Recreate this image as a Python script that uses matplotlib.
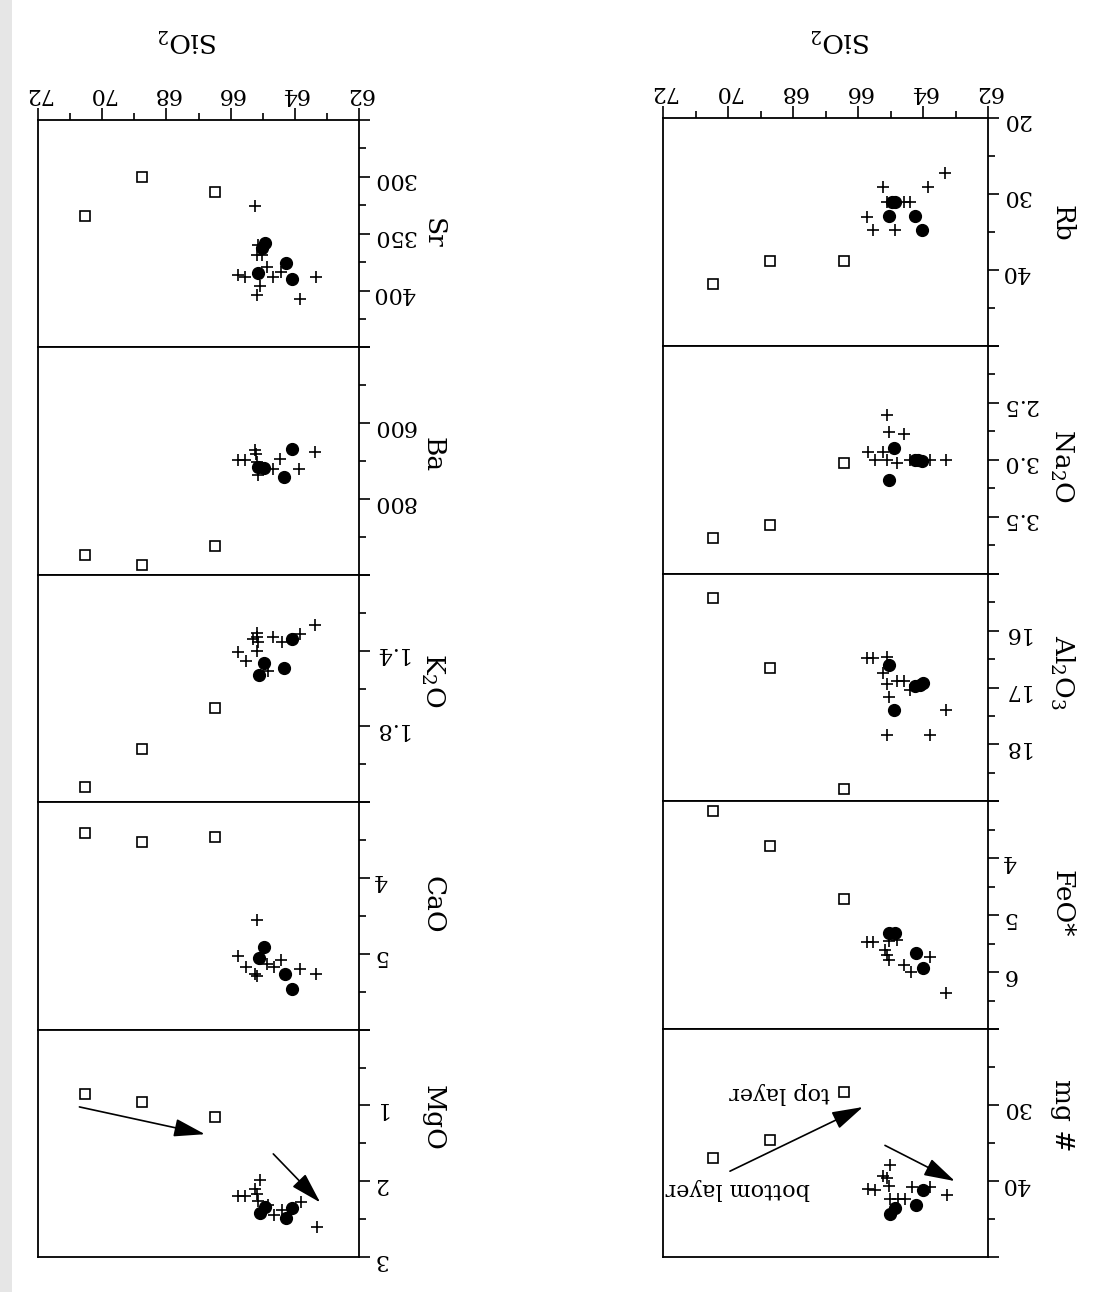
import matplotlib.pyplot as plt
import numpy as np
from matplotlib.patches import Rectangle

plt.rcParams['font.family'] = ['DejaVu Serif']
plt.rcParams['mathtext.fontset'] = 'dejavuserif'

# SiO2 of the three layered samples (open squares)
sq_sio2_r = [70.45, 68.7, 66.42]
sq_sio2_l = [70.55, 68.77, 66.5]

# ---- right column ----
rb_sq = [41.8, 38.8, 38.8]
rb_dot_x = [64.96, 64.86, 65.06, 64.25, 64.04]
rb_dot = [31.1, 31.1, 32.9, 32.9, 34.8]
rb_plus_x = [63.32, 65.22, 63.84, 65.12, 64.6, 64.4, 65.73, 65.53, 64.86]
rb_plus = [27.2, 29.05, 29.05, 31.1, 31.1, 31.1, 33.0, 34.8, 34.8]

na_sq = [3.69, 3.57, 3.03]
na_dot_x = [64.9, 64.25, 64.14, 64.04, 65.04]
na_dot = [2.9, 3.0, 3.0, 3.01, 3.18]
na_plus_x = [65.12, 65.04, 64.6, 65.68, 65.22, 65.48, 65.12, 64.79, 64.4, 63.78, 63.29]
na_plus = [2.61, 2.76, 2.77, 2.93, 2.93, 3.0, 3.0, 3.03, 3.0, 3.0, 3.0]

al_sq = [15.42, 16.65, 18.79]
al_dot_x = [65.04, 64.25, 64.09, 63.99, 64.9]
al_dot = [16.6, 16.98, 16.95, 16.92, 17.39]
al_plus_x = [65.73, 65.53, 65.12, 65.22, 65.12, 64.81, 64.6, 64.4, 65.04, 63.29, 65.12, 63.8]
al_plus = [16.48, 16.48, 16.46, 16.75, 16.94, 16.89, 16.89, 17.05, 17.16, 17.39, 17.84, 17.84]

fe_sq = [3.17, 3.79, 4.72]
fe_dot_x = [65.04, 64.86, 64.22, 63.99]
fe_dot = [5.31, 5.31, 5.66, 5.92]
fe_plus_x = [65.73, 65.53, 65.04, 64.81, 65.17, 65.12, 65.04, 64.6, 64.38, 63.78, 63.29]
fe_plus = [5.47, 5.47, 5.45, 5.43, 5.61, 5.7, 5.78, 5.88, 6.0, 5.74, 6.36]

mg_sq = [37.0, 34.6, 28.3]
mg_dot_x = [64.01, 64.22, 64.86, 65.02]
mg_dot = [41.2, 43.2, 43.5, 44.4]
mg_plus_x = [65.02, 65.22, 65.12, 65.06, 65.68, 65.48, 64.35, 63.78, 63.27, 65.02, 64.76, 64.55]
mg_plus = [37.85, 39.3, 39.65, 40.66, 41.0, 41.2, 40.8, 40.8, 41.85, 42.3, 42.3, 42.3]

# ---- left column ----
sr_sq = [334.5, 299.7, 313.3]
sr_dot_x = [64.93, 65.03, 64.28, 65.14, 64.08]
sr_dot = [358, 363, 376, 385, 390]
sr_plus_x = [65.24, 65.16, 65.19, 65.03, 64.88, 65.78, 65.55, 64.67, 64.43, 63.34, 65.08, 65.19, 63.84]
sr_plus = [326, 360, 369, 369, 379, 386, 388, 388, 384, 388, 396, 404, 407]

ba_sq = [949, 973, 923]
ba_dot_x = [64.1, 65.14, 64.95, 64.33]
ba_dot = [668, 715, 718, 741]
ba_plus_x = [65.24, 65.22, 65.78, 65.55, 65.19, 64.46, 64.67, 63.87, 63.37, 65.14]
ba_plus = [670, 681, 698, 696, 703, 694, 720, 720, 675, 737]

k_sq = [2.12, 1.92, 1.705]
k_dot_x = [64.08, 64.95, 64.33, 65.11]
k_dot = [1.34, 1.466, 1.49, 1.528]
k_plus_x = [63.37, 63.84, 64.67, 64.41, 65.19, 65.19, 65.29, 65.14, 65.19, 65.78, 65.53, 64.83]
k_plus = [1.267, 1.314, 1.326, 1.356, 1.305, 1.33, 1.34, 1.356, 1.4, 1.41, 1.457, 1.508]

ca_sq = [3.41, 3.53, 3.46]
ca_dot_x = [64.95, 65.11, 64.31, 64.08]
ca_dot = [4.906, 5.055, 5.27, 5.47]
ca_plus_x = [65.19, 65.78, 65.53, 65.19, 64.88, 64.64, 64.43, 63.84, 63.35, 65.24]
ca_plus = [4.555, 5.026, 5.18, 5.29, 5.14, 5.18, 5.08, 5.2, 5.27, 5.27]

mgo_sq = [0.856, 0.95, 1.15]
mgo_dot_x = [64.93, 65.08, 64.08, 64.28]
mgo_dot = [2.34, 2.42, 2.36, 2.49]
mgo_plus_x = [65.08, 65.24, 65.19, 65.78, 65.55, 65.16, 64.83, 64.41, 64.64, 63.81, 63.32]
mgo_plus = [1.99, 2.1, 2.17, 2.19, 2.19, 2.26, 2.32, 2.38, 2.45, 2.28, 2.6]

sio2_ticks = [62, 64, 66, 68, 70, 72]

# label, lo, hi, major ticks, major labels, minor ticks, data, label y (px)
right_panels = [
    ('Rb', 20, 50, [20, 30, 40, 50], ['20', '30', '40', ''], [25, 35, 45],
     rb_sq, rb_dot_x, rb_dot, rb_plus_x, rb_plus, 223),
    ('Na$_2$O', 2.0, 4.0, [2.0, 2.5, 3.0, 3.5, 4.0], ['', '2.5', '3.0', '3.5', ''],
     [2.25, 2.75, 3.25, 3.75], na_sq, na_dot_x, na_dot, na_plus_x, na_plus, 466),
    ('Al$_2$O$_3$', 15, 19, [15, 16, 17, 18, 19], ['', '16', '17', '18', ''],
     [15.5, 16.5, 17.5, 18.5], al_sq, al_dot_x, al_dot, al_plus_x, al_plus, 672),
    ('FeO*', 3, 7, [3, 4, 5, 6, 7], ['', '4', '5', '6', ''], [3.5, 4.5, 5.5, 6.5],
     fe_sq, fe_dot_x, fe_dot, fe_plus_x, fe_plus, 904),
    ('mg #', 20, 50, [20, 30, 40, 50], ['', '30', '40', ''], [25, 35, 45],
     mg_sq, mg_dot_x, mg_dot, mg_plus_x, mg_plus, 1115),
]
left_panels = [
    ('Sr', 250, 450, [250, 300, 350, 400, 450], ['', '300', '350', '400', ''],
     [275, 325, 375, 425], sr_sq, sr_dot_x, sr_dot, sr_plus_x, sr_plus, 233),
    ('Ba', 400, 1000, [400, 600, 800, 1000], ['', '600', '800', ''], [500, 700, 900],
     ba_sq, ba_dot_x, ba_dot, ba_plus_x, ba_plus, 455),
    ('K$_2$O', 1.0, 2.2, [1.0, 1.4, 1.8, 2.2], ['', '1.4', '1.8', ''], [1.2, 1.6, 2.0],
     k_sq, k_dot_x, k_dot, k_plus_x, k_plus, 680),
    ('CaO', 3, 6, [3, 4, 5, 6], ['', '4', '5', ''], [3.5, 4.5, 5.5],
     ca_sq, ca_dot_x, ca_dot, ca_plus_x, ca_plus, 905),
    ('MgO', 0, 3, [0, 1, 2, 3], ['', '1', '2', '3'], [0.5, 1.5, 2.5],
     mgo_sq, mgo_dot_x, mgo_dot, mgo_plus_x, mgo_plus, 1118),
]

W, H = 1096, 1292
fig = plt.figure(figsize=(W / 100, H / 100), dpi=100)
fig.patch.set_facecolor('white')
# grey strip of the scanned page edge
fig.patches.append(Rectangle((0, 0), 12 / W, 1, transform=fig.transFigure,
                             facecolor='#e6e6e6', edgecolor='none', zorder=0))


def add_column(x0, x1, top, bottom, panels, sq_x, label_x, sio2_x):
    h = (bottom - top) / len(panels)
    axes = []
    for i, p in enumerate(panels):
        (name, lo, hi, major, major_lab, minor, sq, dx, dy, px, py, ly) = p
        ax = fig.add_axes([x0 / W, 1 - (top + (i + 1) * h) / H, (x1 - x0) / W, h / H])
        ax.plot(sq_x, sq, 's', ms=7.5, mfc='none', mec='k', mew=1.2)
        ax.plot(px, py, '+', ms=9, color='k', mew=1.2)
        ax.plot(dx, dy, 'o', ms=8.5, color='k')
        ax.set_xlim(72, 62)
        ax.set_ylim(hi, lo)
        ax.set_yticks(major, major_lab)
        ax.set_yticks(minor, minor=True)
        ax.tick_params(axis='y', which='both', left=False, right=True,
                       labelleft=False, labelright=True, direction='out',
                       labelrotation=180, labelsize=16, pad=2, width=1.2)
        ax.tick_params(axis='y', which='major', length=8)
        ax.tick_params(axis='y', which='minor', length=5)
        if i == 0:
            ax.set_xticks(sio2_ticks)
            ax.set_xticks(np.arange(63, 72, 2), minor=True)
            ax.tick_params(axis='x', which='both', top=True, bottom=False,
                           labeltop=True, labelbottom=False, direction='out',
                           labelrotation=180, labelsize=16, pad=2, width=1.2)
            ax.tick_params(axis='x', which='major', length=9)
            ax.tick_params(axis='x', which='minor', length=5)
        else:
            ax.tick_params(axis='x', which='both', top=False, bottom=False,
                           labeltop=False, labelbottom=False)
        for s in ax.spines.values():
            s.set_linewidth(1.3)
        fig.text(label_x / W, 1 - ly / H, name, rotation=270, fontsize=19,
                 ha='center', va='center')
        axes.append(ax)
    fig.text(sio2_x / W, 1 - 40 / H, 'SiO$_2$', rotation=180, fontsize=19,
             ha='center', va='center')
    return axes


right_axes = add_column(663, 988, 118, 1257, right_panels, sq_sio2_r, 1062, 841)
left_axes = add_column(38, 359, 120, 1257, left_panels, sq_sio2_l, 433, 188)

arrow_style = dict(arrowstyle='-|>,head_length=1.2,head_width=0.35', color='k',
                   lw=1.2, shrinkA=0, shrinkB=0, mutation_scale=16)

ax_mg = right_axes[4]
ax_mg.annotate('', xy=(65.85, 30.25), xytext=(69.94, 38.7), arrowprops=arrow_style)
ax_mg.annotate('', xy=(63.02, 40.0), xytext=(65.17, 35.3), arrowprops=arrow_style)
ax_mg.text(66.85, 28.35, 'top layer', rotation=180, ha='right', va='center', fontsize=16)
ax_mg.text(67.48, 41.0, 'bottom layer', rotation=180, ha='right', va='center', fontsize=16)

ax_mgo = left_axes[4]
ax_mgo.annotate('', xy=(66.8, 1.38), xytext=(70.71, 1.02), arrowprops=arrow_style)
ax_mgo.annotate('', xy=(63.21, 2.28), xytext=(64.67, 1.64), arrowprops=arrow_style)

fig.savefig('out.png', dpi=100, facecolor='white')
